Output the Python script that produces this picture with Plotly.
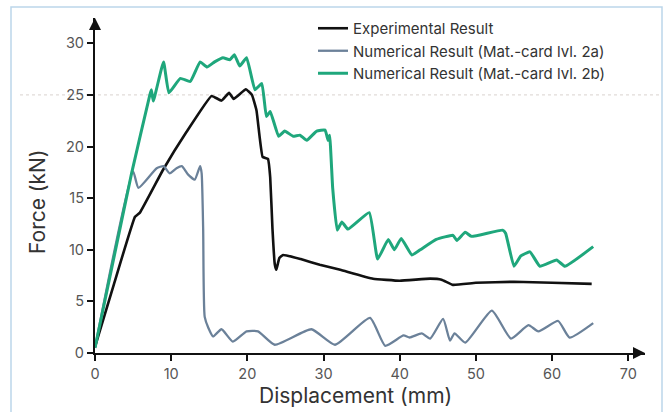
import plotly.graph_objects as go

# Experimental result (black)
exp_x = [0, 2.5, 5.25, 5.9, 8.9, 12.0, 15.3, 16.6, 17.6, 18.2, 19.8, 20.6, 21.2, 21.6, 22.0, 22.7,
         23.0, 23.3, 23.6, 23.8, 24.2, 24.7, 27.0, 29.5, 32.2, 36.5, 40.0, 44.0, 45.5, 47.0, 50.0, 55.0, 60.0, 65.2]
exp_y = [0.6, 6.7, 13.2, 13.6, 17.7, 21.4, 24.9, 24.45, 25.2, 24.6, 25.55, 25.0, 23.5, 21.0, 19.0, 18.8,
         17.0, 12.0, 8.6, 8.06, 9.2, 9.5, 9.1, 8.55, 8.06, 7.2, 7.0, 7.2, 7.1, 6.6, 6.8, 6.9, 6.8, 6.7]

# Numerical result, mat-card lvl. 2a (blue-grey)
num_a_x = [0, 5.0, 5.7, 8.1, 9.0, 9.8, 10.7, 11.4, 12.2, 13.1, 13.8, 14.0, 14.2, 14.4, 14.9, 15.5,
           16.6, 18.1, 19.9, 21.4, 23.6, 28.4, 31.5, 36.1, 38.1, 40.5, 41.3, 42.9, 44.0, 45.7, 46.6,
           47.2, 48.6, 52.1, 54.6, 56.9, 58.2, 60.8, 62.3, 65.4]
num_a_y = [0.5, 17.6, 16.0, 17.9, 18.1, 17.4, 17.9, 18.1, 17.3, 16.8, 18.1, 17.4, 12.0, 3.5, 2.4, 1.6,
           2.3, 1.1, 2.1, 2.1, 0.8, 2.3, 0.8, 3.4, 0.7, 1.7, 1.5, 1.9, 1.4, 3.3, 1.2,
           1.9, 1.0, 4.1, 1.4, 2.7, 2.1, 3.1, 1.5, 2.9]

# Numerical result, mat-card lvl. 2b (green)
num_b_x = [0, 4.8, 7.2, 7.4, 7.65, 9.0, 9.7, 11.2, 12.5, 13.8, 14.7, 15.7, 16.8, 17.7, 18.3, 19.0,
           19.9, 21.0, 21.9, 22.5, 23.0, 24.1, 24.9, 26.0, 26.9, 27.8, 29.1, 30.2, 30.6, 30.8, 31.2,
           31.8, 32.4, 33.2, 36.0, 37.1, 38.5, 39.3, 40.2, 41.6, 42.7, 44.8, 47.0, 47.5, 48.6, 49.4,
           53.5, 53.9, 55.0, 55.9, 57.1, 58.4, 60.6, 61.7, 65.4]
num_b_y = [0.5, 17.4, 25.0, 25.5, 24.4, 28.2, 25.2, 26.6, 26.3, 28.2, 27.7, 28.2, 28.6, 28.4, 28.9, 27.8,
           28.6, 25.5, 26.1, 22.9, 23.4, 21.0, 21.5, 21.0, 21.1, 20.6, 21.5, 21.6, 20.6, 21.1, 16.0,
           11.9, 12.7, 12.0, 13.6, 9.1, 11.0, 10.0, 11.1, 9.5, 10.0, 11.0, 11.4, 10.9, 11.7, 11.3,
           11.9, 11.6, 8.4, 9.4, 9.8, 8.4, 9.0, 8.4, 10.3]

x_ticks = [0, 10, 20, 30, 40, 50, 60, 70]
y_ticks = [0, 5, 10, 15, 20, 25, 30]
ref_level = 25

series_names = ["Experimental Result", "Numerical Result (Mat.-card lvl. 2a)", "Numerical Result (Mat.-card lvl. 2b)"]
x_title = "Displacement (mm)"
y_title = "Force (kN)"

fig = go.Figure()
fig.add_trace(go.Scatter(x=exp_x, y=exp_y, mode="lines", name=series_names[0],
                         line=dict(color="#111111", width=2.6, shape="spline", smoothing=0.3)))
fig.add_trace(go.Scatter(x=num_a_x, y=num_a_y, mode="lines", name=series_names[1],
                         line=dict(color="#6b8199", width=2.3, shape="spline", smoothing=0.5)))
fig.add_trace(go.Scatter(x=num_b_x, y=num_b_y, mode="lines", name=series_names[2],
                         line=dict(color="#1fa77c", width=3, shape="spline", smoothing=0.35)))

L, R, T, B = 95, 20, 18, 59
W, H = 665, 412
pw, ph = W - L - R, H - T - B
xmax = 72.2
ymax = 32.45

def px_x(p):
    return (p - L) / pw

def px_y(p):
    return (H - B - p) / ph

# frame (light blue border)
fig.add_shape(type="rect", xref="paper", yref="paper",
              x0=px_x(11), x1=px_x(662), y0=px_y(H + 5), y1=px_y(7),
              line=dict(color="#bcd6ea", width=1.5), fillcolor="rgba(0,0,0,0)", layer="below")
# faint reference line at 25 kN
fig.add_shape(type="line", xref="paper", yref="y", x0=px_x(20), x1=px_x(660),
              y0=ref_level, y1=ref_level, line=dict(color="#d9d2ce", width=1, dash="dot"), layer="below")

# axis arrow heads
fig.add_annotation(x=xmax, y=0, xref="x", yref="y", ax=-12, ay=0, axref="pixel", ayref="pixel",
                   showarrow=True, arrowhead=2, arrowsize=1.2, arrowwidth=2, arrowcolor="#111111", text="")
fig.add_annotation(x=0, y=ymax, xref="x", yref="y", ax=0, ay=12, axref="pixel", ayref="pixel",
                   showarrow=True, arrowhead=2, arrowsize=1.2, arrowwidth=2, arrowcolor="#111111", text="")

# axis titles
fig.add_annotation(x=px_x(355), y=px_y(395), xref="paper", yref="paper", text=x_title,
                   showarrow=False, xanchor="center", yanchor="middle",
                   font=dict(size=21, color="#333333"))
fig.add_annotation(x=px_x(37), y=px_y(202), xref="paper", yref="paper", text=y_title,
                   showarrow=False, xanchor="center", yanchor="middle", textangle=-90,
                   font=dict(size=21, color="#333333"))

fig.update_layout(
    width=W, height=H,
    margin=dict(l=L, r=R, t=T, b=B, autoexpand=False),
    paper_bgcolor="white", plot_bgcolor="white",
    font=dict(family="Inter, Open Sans, sans-serif", color="#444444"),
    legend=dict(x=px_x(313), y=px_y(12), xanchor="left", yanchor="top",
                bgcolor="rgba(0,0,0,0)", font=dict(size=15, color="#333333"),
                itemwidth=30, tracegroupgap=0),
    showlegend=True,
)
fig.update_xaxes(range=[0, xmax], tickvals=x_ticks, showgrid=False, zeroline=False,
                 showline=True, linecolor="#111111", linewidth=2.2,
                 ticks="outside", ticklen=6, tickwidth=2, tickcolor="#111111",
                 tickfont=dict(size=14.5, color="#555555"))
fig.update_yaxes(range=[0, ymax], tickvals=y_ticks, showgrid=False, zeroline=False,
                 showline=True, linecolor="#111111", linewidth=2.2,
                 ticks="outside", ticklen=6, tickwidth=2, tickcolor="#111111",
                 tickfont=dict(size=14.5, color="#555555"))

fig.write_html("out.html")
